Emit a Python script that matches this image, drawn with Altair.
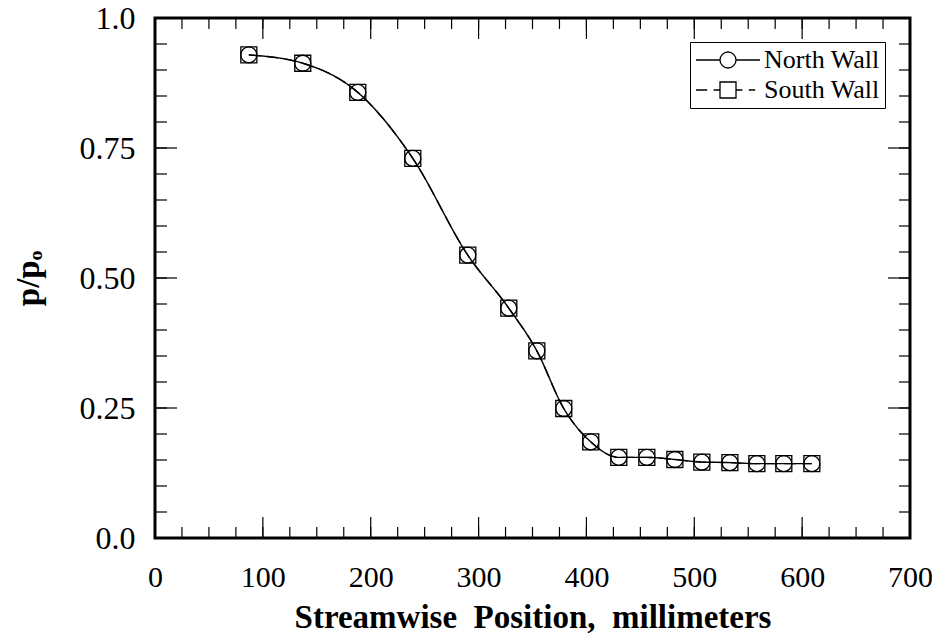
import altair as alt
import pandas as pd

# ---- data ----
x_mm = [87, 137, 188, 239, 290, 328, 354, 379, 404, 430, 456, 482, 507, 533, 558, 583, 609]
north_wall = [0.929, 0.913, 0.857, 0.730, 0.544, 0.442, 0.360, 0.249, 0.185,
              0.155, 0.155, 0.151, 0.146, 0.145, 0.143, 0.143, 0.143]
south_wall = [0.929, 0.913, 0.857, 0.730, 0.544, 0.442, 0.360, 0.249, 0.185,
              0.155, 0.155, 0.151, 0.146, 0.145, 0.143, 0.143, 0.143]
series_names = ["North Wall", "South Wall"]

x_major = [0, 100, 200, 300, 400, 500, 600, 700]
x_minor = [0, 25, 50, 75, 100, 125, 150, 175, 200, 225, 250, 275, 300, 325, 350,
           375, 400, 425, 450, 475, 500, 525, 550, 575, 600, 625, 650, 675, 700]
y_major = [0.0, 0.25, 0.5, 0.75, 1.0]
y_minor = [0.0, 0.05, 0.1, 0.15, 0.2, 0.25, 0.3, 0.35, 0.4, 0.45, 0.5, 0.55, 0.6,
           0.65, 0.7, 0.75, 0.8, 0.85, 0.9, 0.95, 1.0]

W, H = 755, 520
FONT = "Liberation Serif"
NB = "\u00a0"

rows = []
for name, vals in zip(series_names, [north_wall, south_wall]):
    for xv, yv in zip(x_mm, vals):
        rows.append({"x": xv, "p": yv, "series": name, "series_key": name})
df = pd.DataFrame(rows)

xscale = alt.Scale(domain=[0, 700], nice=False, zero=False)
yscale = alt.Scale(domain=[0, 1], nice=False, zero=False)

x_axis = alt.Axis(
    values=x_major, domain=False, ticks=False, grid=False,
    labelFont=FONT, labelFontSize=30, labelColor="black", labelPadding=24,
    labelFlush=False, labelOverlap=False,
    title=f"Streamwise{NB}{NB}Position,{NB}{NB}millimeters", titleFont=FONT,
    titleFontSize=33, titleFontWeight="bold", titleColor="black", titlePadding=9,
)
y_axis = alt.Axis(
    values=y_major, domain=False, ticks=False, grid=False,
    labelExpr="datum.value == 0 ? '0.0' : datum.value == 1 ? '1.0' : format(datum.value, '.2f')",
    labelFont=FONT, labelFontSize=32, labelColor="black", labelPadding=20,
    labelFlush=False, labelOverlap=False,
    title="p/pₒ", titleFont=FONT, titleFontSize=33, titleFontWeight="bold",
    titleColor="black", titlePadding=34,
)

def X(field):
    return alt.X(field, scale=xscale, axis=x_axis)

def Y(field):
    return alt.Y(field, scale=yscale, axis=y_axis)

# legend glyphs (unit = half symbol width): line with marker in its middle
north_glyph = ("M-1.5,0L1.5,0M3.5,0L6.5,0"
               "M3.5,0A1,1 0 1,1 1.5,0A1,1 0 1,1 3.5,0")
south_glyph = ("M-1.5,0L-0.1,0M0.7,0L1.5,0M3.5,0L4.3,0M5.1,0L5.9,0"
               "M1.5,-1L3.5,-1L3.5,1L1.5,1Z")

line = alt.Chart(df).mark_line(color="black", strokeWidth=1.4, interpolate="monotone").encode(
    x=X("x:Q"), y=Y("p:Q"),
    strokeDash=alt.StrokeDash(
        "series:N",
        scale=alt.Scale(domain=series_names, range=[[1, 0], [12, 6]]),
        legend=None,
    ),
)

points = alt.Chart(df).mark_point(size=256, filled=False, color="black", strokeWidth=1.3, opacity=1).encode(
    x=X("x:Q"), y=Y("p:Q"),
    shape=alt.Shape(
        "series:N",
        scale=alt.Scale(domain=series_names, range=["circle", "square"]),
        legend=None,
    ),
)

legend_layer = alt.Chart(df).mark_point(size=256, filled=False, color="black", strokeWidth=1.3, opacity=0).encode(
    x=X("x:Q"), y=Y("p:Q"),
    shape=alt.Shape(
        "series_key:N",
        scale=alt.Scale(domain=series_names, range=[north_glyph, south_glyph]),
        legend=alt.Legend(
            title=None, orient="none", legendX=535, legendY=24,
            symbolSize=256, symbolStrokeWidth=1.3, symbolStrokeColor="black",
            symbolFillColor="transparent", symbolOpacity=1,
            labelFont=FONT, labelFontSize=26, labelColor="black", labelOffset=43,
            rowPadding=4, padding=5, strokeColor="black", fillColor="white",
            labelLimit=400,
        ),
    ),
)

def xticks(vals, length, at_bottom):
    d = pd.DataFrame({"v": vals})
    y0 = H if at_bottom else 0
    y1 = H - length if at_bottom else length
    return alt.Chart(d).mark_rule(color="black", strokeWidth=1.2).encode(
        x=X("v:Q"), y=alt.value(y0), y2=alt.value(y1),
    )

def yticks(vals, length, at_left):
    d = pd.DataFrame({"v": vals})
    x0 = 0 if at_left else W
    x1 = length if at_left else W - length
    return alt.Chart(d).mark_rule(color="black", strokeWidth=1.2).encode(
        y=Y("v:Q"), x=alt.value(x0), x2=alt.value(x1),
    )

ticks = [
    xticks(x_minor, 11, True), xticks(x_major, 21, True),
    xticks(x_minor, 11, False), xticks(x_major, 21, False),
    yticks(y_minor, 12, True), yticks(y_major, 22, True),
    yticks(y_minor, 11, False), yticks(y_major, 22, False),
]

chart = alt.layer(*ticks, line, points, legend_layer).resolve_scale(
    shape="independent"
).properties(
    width=W, height=H,
    autosize=alt.AutoSizeParams(type="none"),
    padding={"left": 147, "top": 10, "right": 22, "bottom": 97},
    background="white",
).configure_view(stroke="black", strokeWidth=3)

chart.save("out.html", embed_options={"renderer": "svg", "actions": False})
